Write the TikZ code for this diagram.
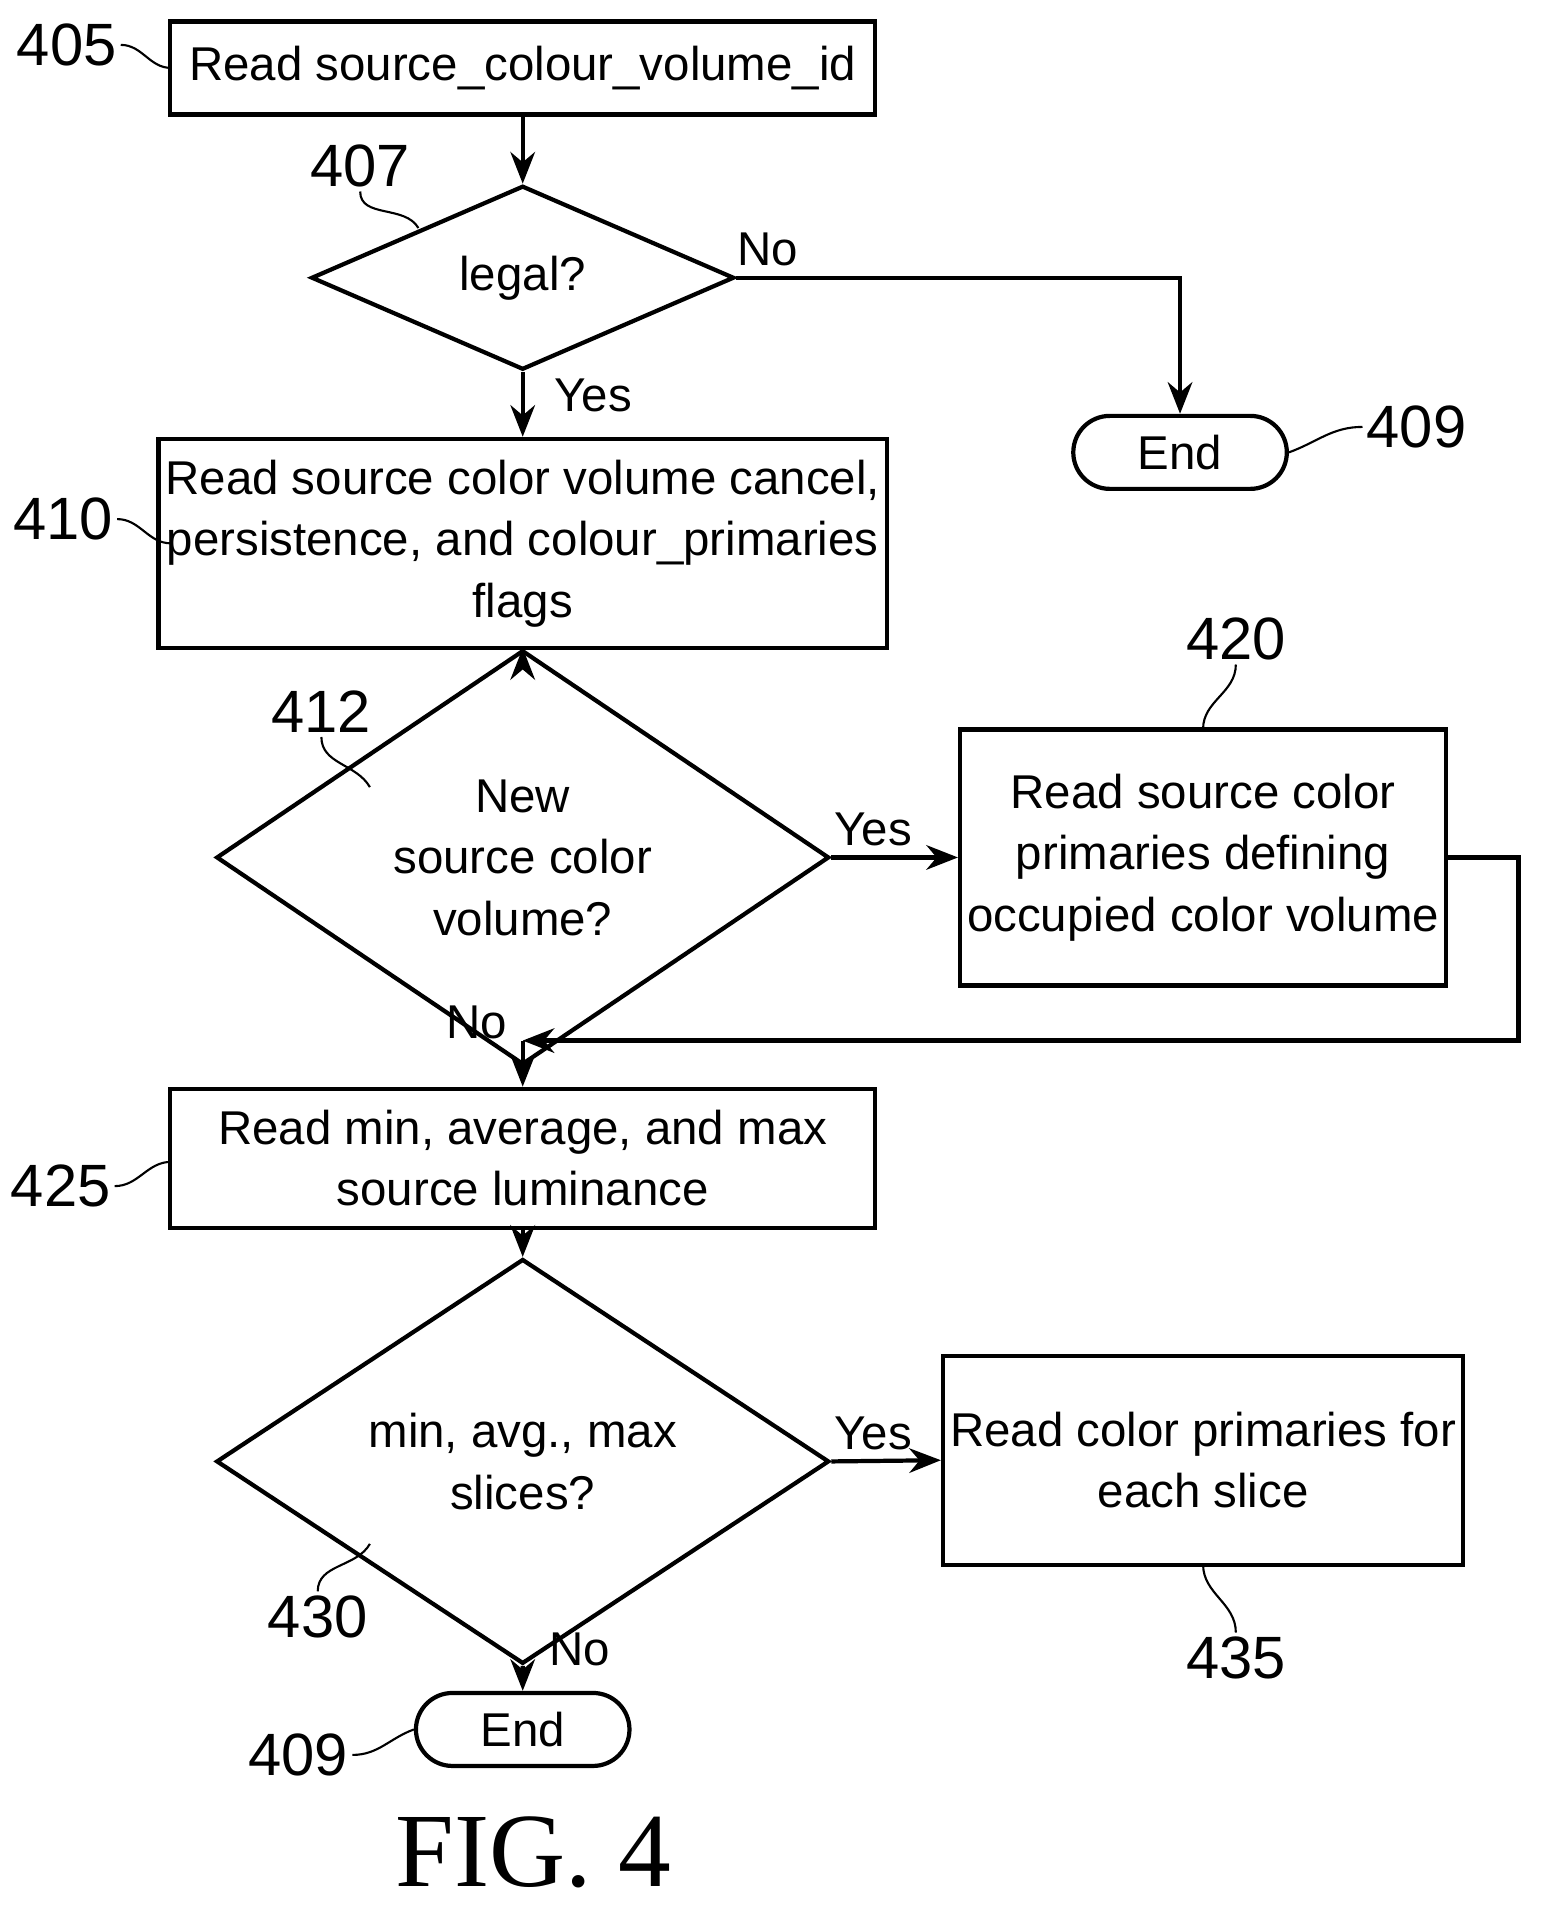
\documentclass[tikz,border=0pt]{standalone}
\usepackage{fontspec}
\setmainfont{Liberation Sans}
\newfontfamily\figfont{Liberation Serif}
\usetikzlibrary{calc,positioning,shapes.geometric,shapes.misc,arrows.meta}

\tikzset{
    proc/.style={draw,line width=1.2pt,align=center,inner sep=2pt,font=\fontsize{13.5}{17.5}\selectfont},
    test/.style={draw,diamond,line width=1.2pt,align=center,inner sep=0pt,font=\fontsize{13.5}{17.5}\selectfont},
    stop/.style={draw,rounded rectangle,line width=1.2pt,font=\fontsize{13.5}{17.5}\selectfont},
    ref/.style={font=\fontsize{17}{20}\selectfont,inner sep=1pt},
    lead/.style={line width=0.6pt},
    flow/.style={line width=1.2pt,-{Stealth[length=9pt,width=7pt]}},
    tag/.style={font=\fontsize{13.5}{16}\selectfont,inner sep=1pt}
}

\begin{document}
\begin{tikzpicture}[x=0.01213cm,y=-0.01213cm]
    \useasboundingbox (0,0) rectangle (1270,1579);

    % main column
    \node[proc,minimum width=7.05cm,minimum height=0.93cm] (readid) at (431,56) {Read source\_colour\_volume\_id};
    \node[test,minimum width=4.23cm,minimum height=1.84cm] (legal) at (431,229) {legal?};
    \node[stop,minimum width=2.37cm,minimum height=0.73cm] (endA) at (973,373) {End};
    \node[proc,minimum width=7.05cm,minimum height=2.09cm] (readflags) at (431,448)
        {Read source color volume cancel,\\persistence, and colour\_primaries\\flags};
    \node[test,minimum width=6.13cm,minimum height=2.78cm] (newvol) at (431,707)
        {New\\source color\\volume?};
    \node[proc,minimum width=4.71cm,minimum height=2.56cm] (readprim) at (992,707)
        {Read source color\\primaries defining\\occupied color volume};
    \coordinate (merge) at (431,858);
    \node[proc,minimum width=7.05cm,minimum height=1.39cm] (readlum) at (431,955)
        {Read min, average, and max\\source luminance};
    \node[test,minimum width=6.13cm,minimum height=3.26cm] (slices) at (431,1205)
        {min, avg., max\\slices?};
    \node[proc,minimum width=4.71cm,minimum height=2.09cm] (readslice) at (992,1204)
        {Read color primaries for\\each slice};
    \node[stop,minimum width=2.37cm,minimum height=0.73cm] (endB) at (431,1426) {End};

    % connectors
    \draw[flow] (readid) -- (legal);
    \draw[flow] (legal.east) -| (endA.north);
    \node[tag] (legalno) at (633,206) {No};
    \draw[flow] (legal) -- (readflags);
    \node[tag] (legalyes) at (489,326) {Yes};
    \draw[flow] (readflags) -- (newvol);
    \draw[flow] (newvol.east) -- (readprim.west);
    \node[tag] (newyes) at (720,684) {Yes};
    \draw[line width=1.2pt] (newvol.south) -- (merge);
    \node[tag] (newno) at (393,843) {No};
    \draw[flow] (readprim.east) -- ++(58,0) |- (merge);
    \draw[flow] (merge) -- (readlum);
    \draw[flow] (readlum) -- (slices);
    \draw[flow] (slices.east) -- (readslice.west);
    \node[tag] (sliceyes) at (720,1182) {Yes};
    \draw[flow] (slices) -- (endB);
    \node[tag] (sliceno) at (478,1360) {No};

    % reference numerals
    \node[ref] (n405) at (55,37) {405};
    \draw[lead] (n405.east) to[out=0,in=180] (141,56);
    \node[ref] (n407) at (297,137) {407};
    \draw[lead] (n407.south) to[out=-90,in=120] (345,188);
    \node[ref] (n409a) at (1168,352) {409};
    \draw[lead] (n409a.west) to[out=180,in=20] (endA.east);
    \node[ref] (n410) at (52,428) {410};
    \draw[lead] (n410.east) to[out=0,in=180] (141,448);
    \node[ref] (n420) at (1019,527) {420};
    \draw[lead] (n420.south) to[out=-90,in=90] (992,601);
    \node[ref] (n412) at (265,587) {412};
    \draw[lead] (n412.south) to[out=-90,in=120] (305,649);
    \node[ref] (n425) at (50,978) {425};
    \draw[lead] (n425.east) to[out=0,in=180] (141,958);
    \node[ref] (n430) at (262,1333) {430};
    \draw[lead] (n430.north) to[out=90,in=-120] (305,1273);
    \node[ref] (n435) at (1019,1367) {435};
    \draw[lead] (n435.north) to[out=90,in=-90] (992,1290);
    \node[ref] (n409b) at (246,1447) {409};
    \draw[lead] (n409b.east) to[out=0,in=200] (endB.west);

    \node[font=\figfont\fontsize{30}{34}\selectfont] (fig) at (440,1527) {FIG. 4};
\end{tikzpicture}
\end{document}
